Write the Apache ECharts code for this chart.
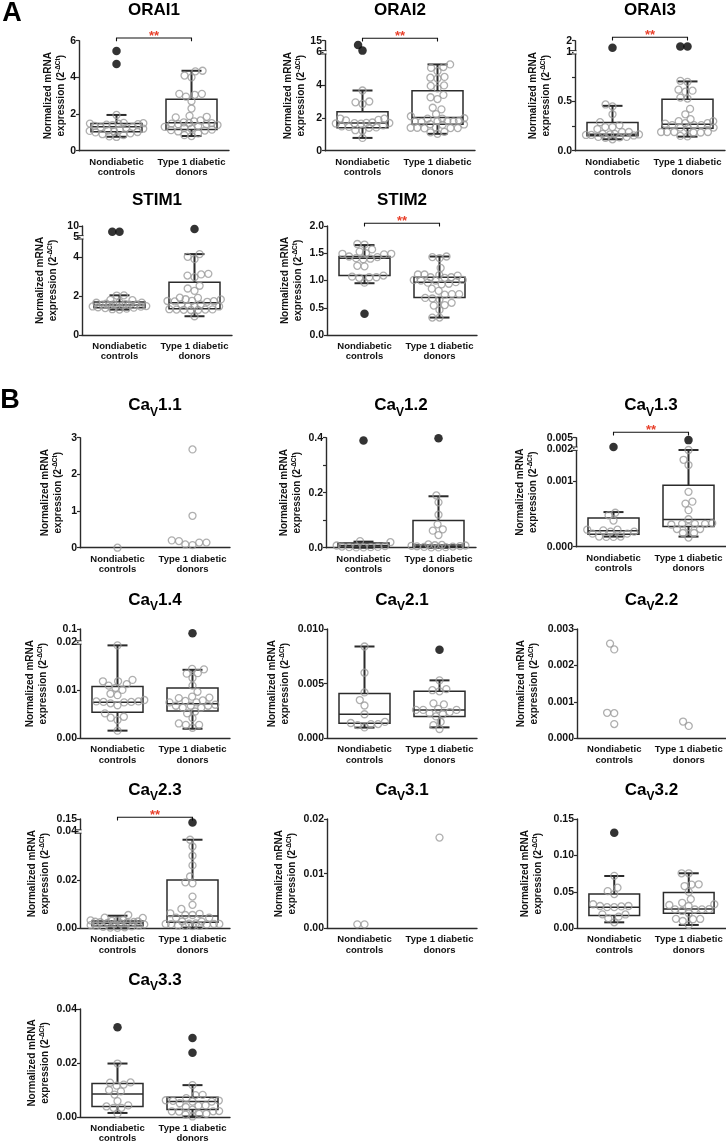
<!DOCTYPE html>
<html><head><meta charset="utf-8">
<script src="https://cdn.jsdelivr.net/npm/echarts@6/dist/echarts.min.js"></script>
<style>html,body{margin:0;padding:0;background:#fff}#c{width:726px;height:1144px}</style>
</head><body><div id="c"></div>
<script>
// ---------------- DATA ----------------
const categories = ['Nondiabetic\ncontrols', 'Type 1 diabetic\ndonors'];
const titles = [['ORAI1'], ['ORAI2'], ['ORAI3'], ['STIM1'], ['STIM2'],
  ['Ca','V','1.1'], ['Ca','V','1.2'], ['Ca','V','1.3'], ['Ca','V','1.4'], ['Ca','V','2.1'],
  ['Ca','V','2.2'], ['Ca','V','2.3'], ['Ca','V','3.1'], ['Ca','V','3.2'], ['Ca','V','3.3']];

// ORAI1
const orai1Ctrl = [1.95, 1.52, 1.50, 1.48, 1.47, 1.45, 1.42, 1.40, 1.35, 1.30, 1.28, 1.25, 1.20, 1.15, 1.10, 1.08, 1.05, 1.02, 1.00, 0.95, 0.90, 0.85, 0.78, 0.75];
const orai1CtrlOut = [5.44, 4.73];
const orai1CtrlBox = [0.76, 1.04, 1.31, 1.49, 1.95];
const orai1Diab = [4.36, 4.33, 4.1, 4.0, 3.1, 3.1, 3.05, 2.95, 2.7, 2.3, 1.9, 1.85, 1.82, 1.65, 1.6, 1.55, 1.5, 1.5, 1.48, 1.45, 1.45, 1.4, 1.35, 1.3, 1.25, 1.2, 1.15, 1.12, 1.1, 1.05, 0.95, 0.85, 0.8];
const orai1DiabOut = [];
const orai1DiabBox = [0.8, 1.16, 1.53, 2.8, 4.36];
const orai1Ticks = [0, 2, 4, 6];
const orai1Labels = ['0', '2', '4', '6'];

// ORAI2
const orai2Ctrl = [3.67, 3.0, 2.95, 2.85, 1.96, 1.95, 1.88, 1.85, 1.72, 1.70, 1.69, 1.68, 1.66, 1.65, 1.55, 1.48, 1.45, 1.42, 1.40, 1.25, 1.22, 0.78];
const orai2CtrlOut = [7.3, 11.7];
const orai2CtrlBox = [0.78, 1.40, 1.69, 2.37, 3.67];
const orai2Diab = [5.26, 5.1, 5.05, 4.85, 4.5, 4.45, 4.4, 3.98, 3.95, 3.8, 3.4, 3.26, 3.15, 2.62, 2.52, 2.23, 2.1, 1.98, 1.96, 1.95, 1.82, 1.8, 1.8, 1.78, 1.78, 1.76, 1.62, 1.6, 1.58, 1.42, 1.4, 1.4, 1.38, 1.38, 1.36, 1.15, 1.12, 1.03];
const orai2DiabOut = [];
const orai2DiabBox = [1.03, 1.61, 2.02, 3.65, 5.26];
const orai2Ticks = [0, 2, 4, 6, 15];
const orai2Labels = ['0', '2', '4', '6', '15'];
const orai2Break = [6, 15];

// ORAI3
const orai3Ctrl = [0.47, 0.45, 0.37, 0.29, 0.26, 0.24, 0.24, 0.22, 0.19, 0.19, 0.17, 0.17, 0.165, 0.165, 0.16, 0.16, 0.155, 0.14, 0.14, 0.135, 0.13, 0.116];
const orai3CtrlOut = [1.4];
const orai3CtrlBox = [0.116, 0.153, 0.167, 0.286, 0.456];
const orai3Diab = [0.71, 0.70, 0.62, 0.61, 0.60, 0.54, 0.53, 0.425, 0.37, 0.32, 0.30, 0.30, 0.28, 0.28, 0.275, 0.26, 0.26, 0.26, 0.235, 0.235, 0.23, 0.19, 0.19, 0.19, 0.19, 0.185, 0.185, 0.15, 0.145];
const orai3DiabOut = [1.49, 1.49];
const orai3DiabBox = [0.143, 0.228, 0.269, 0.524, 0.704];
const orai3Ticks = [0, 0.25, 0.5, 0.75, 1, 2];
const orai3Labels = ['0.0', '', '0.5', '', '1', '2'];
const orai3Break = [1, 2];

// STIM1
const stim1Ctrl = [2.03, 2.02, 1.8, 1.78, 1.68, 1.66, 1.65, 1.6, 1.58, 1.57, 1.56, 1.55, 1.55, 1.52, 1.5, 1.5, 1.48, 1.46, 1.45, 1.42, 1.4, 1.38, 1.35, 1.32, 1.3];
const stim1CtrlOut = [7.5, 7.5];
const stim1CtrlBox = [1.30, 1.39, 1.53, 1.69, 2.03];
const stim1Diab = [4.14, 4.0, 3.88, 3.13, 3.1, 3.04, 2.96, 2.52, 2.38, 2.26, 1.91, 1.9, 1.83, 1.82, 1.75, 1.74, 1.73, 1.72, 1.7, 1.57, 1.56, 1.48, 1.47, 1.46, 1.32, 1.31, 1.30, 1.30, 1.29, 1.28, 1.28, 0.96];
const stim1DiabOut = [8.7];
const stim1DiabBox = [0.96, 1.34, 1.65, 2.70, 4.14];
const stim1Ticks = [0, 2, 4, 5, 10];
const stim1Labels = ['0', '2', '4', '5', '10'];
const stim1Break = [5, 10];

// STIM2
const stim2Ctrl = [1.67, 1.66, 1.57, 1.53, 1.5, 1.49, 1.49, 1.48, 1.44, 1.43, 1.41, 1.40, 1.39, 1.27, 1.26, 1.09, 1.07, 1.06, 1.06, 1.05, 0.96];
const stim2CtrlOut = [0.39];
const stim2CtrlBox = [0.95, 1.09, 1.41, 1.44, 1.65];
const stim2Diab = [1.44, 1.43, 1.41, 1.23, 1.11, 1.11, 1.10, 1.09, 1.06, 1.06, 1.05, 1.01, 1.01, 1.0, 1.0, 0.97, 0.96, 0.94, 0.93, 0.85, 0.81, 0.75, 0.75, 0.74, 0.68, 0.67, 0.65, 0.59, 0.55, 0.54, 0.46, 0.32, 0.32];
const stim2DiabOut = [];
const stim2DiabBox = [0.32, 0.69, 0.97, 1.06, 1.44];
const stim2Ticks = [0, 0.5, 1, 1.5, 2];
const stim2Labels = ['0.0', '0.5', '1.0', '1.5', '2.0'];

// CaV1.1
const cav11Ctrl = [0.0];
const cav11Diab = [2.68, 0.87, 0.18, 0.14, 0.07, 0.09, 0.14, 0.2];
const cav11Ticks = [0, 1, 2, 3];
const cav11Labels = ['0', '1', '2', '3'];

// CaV1.2
const cav12Ctrl = [0.024, 0.02, 0.008, 0.006, 0.004, 0.003, 0.002, 0.002, 0.001, 0.001];
const cav12CtrlOut = [0.39];
const cav12CtrlBox = [0.0, 0.003, 0.008, 0.017, 0.022];
const cav12Diab = [0.19, 0.165, 0.12, 0.085, 0.067, 0.062, 0.046, 0.012, 0.01, 0.009, 0.008, 0.007, 0.006, 0.005, 0.004, 0.003, 0.002, 0.001, 0.001];
const cav12DiabOut = [0.398];
const cav12DiabBox = [0.0, 0.004, 0.01, 0.099, 0.187];
const cav12Ticks = [0, 0.1, 0.2, 0.3, 0.4];
const cav12Labels = ['0.0', '', '0.2', '', '0.4'];

// CaV1.3
const cav13Ctrl = [0.00052, 0.00048, 0.0004, 0.00026, 0.00026, 0.00025, 0.00023, 0.00023, 0.0002, 0.0002, 0.000155, 0.00015, 0.00015, 0.000155];
const cav13CtrlOut = [0.00205];
const cav13CtrlBox = [0.000155, 0.00019, 0.000244, 0.00044, 0.00053];
const cav13Diab = [0.00148, 0.00133, 0.00125, 0.00084, 0.00069, 0.00066, 0.00056, 0.00042, 0.00036, 0.00035, 0.00035, 0.00034, 0.00035, 0.0003, 0.00027, 0.00027, 0.00021, 0.00021, 0.00014];
const cav13DiabOut = [0.00423];
const cav13DiabBox = [0.000155, 0.00031, 0.000415, 0.00094, 0.00148];
const cav13Ticks = [0, 0.001, 0.0015, 0.005];
const cav13Labels = ['0.000', '0.001', '0.002', '0.005'];
const cav13Break = [0.0015, 0.005];

// CaV1.4
const cav14Ctrl = [0.0194, 0.0122, 0.0119, 0.0119, 0.0113, 0.011, 0.0105, 0.0101, 0.0093, 0.009, 0.008, 0.0077, 0.0077, 0.0076, 0.0076, 0.0075, 0.0073, 0.0069, 0.0052, 0.0045, 0.0043, 0.0038, 0.0016];
const cav14CtrlOut = [];
const cav14CtrlBox = [0.0016, 0.00545, 0.00755, 0.0108, 0.0194];
const cav14Diab = [0.0145, 0.0144, 0.0136, 0.0135, 0.0126, 0.011, 0.0097, 0.0087, 0.0085, 0.0084, 0.0079, 0.0078, 0.0075, 0.0075, 0.007, 0.0068, 0.0068, 0.0068, 0.0064, 0.0064, 0.0056, 0.0052, 0.0042, 0.0031, 0.0028, 0.0028, 0.0022];
const cav14DiabOut = [0.075];
const cav14DiabBox = [0.002, 0.0057, 0.0072, 0.0105, 0.0143];
const cav14Ticks = [0, 0.01, 0.02, 0.1];
const cav14Labels = ['0.00', '0.01', '0.02', '0.1'];
const cav14Break = [0.02, 0.1];

// CaV2.1
const cav21Ctrl = [0.0084, 0.006, 0.0042, 0.0035, 0.003, 0.0022, 0.0015, 0.0014, 0.0013, 0.0013, 0.0012, 0.001];
const cav21CtrlOut = [];
const cav21CtrlBox = [0.00098, 0.00137, 0.0022, 0.0041, 0.0084];
const cav21Diab = [0.0053, 0.0044, 0.0043, 0.0045, 0.0032, 0.0031, 0.0027, 0.0026, 0.0026, 0.0026, 0.0024, 0.0023, 0.0022, 0.002, 0.0015, 0.0012, 0.00085];
const cav21DiabOut = [0.0081];
const cav21DiabBox = [0.001, 0.002, 0.0026, 0.0043, 0.0053];
const cav21Ticks = [0, 0.005, 0.01];
const cav21Labels = ['0.000', '0.005', '0.010'];

// CaV2.2
const cav22Ctrl = [0.0026, 0.00244, 0.0007, 0.00069, 0.00039];
const cav22Diab = [0.00046, 0.00034];
const cav22Ticks = [0, 0.001, 0.002, 0.003];
const cav22Labels = ['0.000', '0.001', '0.002', '0.003'];

// CaV2.3
const cav23Ctrl = [0.0055, 0.0044, 0.0043, 0.0034, 0.0033, 0.0032, 0.0031, 0.0028, 0.0027, 0.0026, 0.0025, 0.0024, 0.0022, 0.002, 0.0018, 0.0016, 0.0013, 0.0011, 0.001, 0.0008, 0.0006, 0.0004, 0.0003, 0.0002];
const cav23CtrlOut = [];
const cav23CtrlBox = [0.0, 0.0011, 0.0021, 0.003, 0.0052];
const cav23Diab = [0.0366, 0.0338, 0.03, 0.026, 0.0214, 0.019, 0.0186, 0.0131, 0.0097, 0.008, 0.0062, 0.006, 0.0055, 0.0055, 0.0044, 0.0044, 0.0028, 0.0028, 0.002, 0.0018, 0.0018, 0.0017, 0.0016, 0.0018, 0.0019, 0.001, 0.001, 0.0009, 0.0011];
const cav23DiabOut = [0.119];
const cav23DiabBox = [0.0003, 0.0025, 0.0051, 0.02, 0.0366];
const cav23Ticks = [0, 0.02, 0.04, 0.15];
const cav23Labels = ['0.00', '0.02', '0.04', '0.15'];
const cav23Break = [0.04, 0.15];

// CaV3.1
const cav31Ctrl = [0.00073, 0.00073];
const cav31Diab = [0.0166];
const cav31Ticks = [0, 0.01, 0.02];
const cav31Labels = ['0.00', '0.01', '0.02'];

// CaV3.2
const cav32Ctrl = [0.072, 0.0558, 0.051, 0.047, 0.033, 0.0306, 0.0306, 0.03, 0.029, 0.029, 0.0192, 0.019, 0.016, 0.0137, 0.0082];
const cav32CtrlOut = [0.131];
const cav32CtrlBox = [0.0082, 0.0174, 0.0288, 0.047, 0.0718];
const cav32Diab = [0.0755, 0.0755, 0.0604, 0.06, 0.058, 0.05, 0.04, 0.035, 0.033, 0.032, 0.0306, 0.026, 0.026, 0.0262, 0.0258, 0.0238, 0.0206, 0.0128, 0.013, 0.0125, 0.01, 0.0046];
const cav32DiabOut = [];
const cav32DiabBox = [0.0046, 0.0206, 0.0265, 0.049, 0.0755];
const cav32Ticks = [0, 0.05, 0.1, 0.15];
const cav32Labels = ['0.00', '0.05', '0.10', '0.15'];

// CaV3.3
const cav33Ctrl = [0.0198, 0.0128, 0.0127, 0.012, 0.0116, 0.01, 0.0095, 0.0083, 0.0059, 0.0043, 0.0039, 0.0034, 0.0034, 0.0012];
const cav33CtrlOut = [0.0332];
const cav33CtrlBox = [0.0015, 0.0039, 0.0085, 0.0124, 0.0198];
const cav33Diab = [0.0118, 0.0082, 0.0081, 0.007, 0.0061, 0.006, 0.0062, 0.0057, 0.0057, 0.0051, 0.0043, 0.0042, 0.0037, 0.0027, 0.0021, 0.0021, 0.0022, 0.002, 0.0012, 0.0012, 0.0009, 0.0002];
const cav33DiabOut = [0.0293, 0.0238];
const cav33DiabBox = [0.0002, 0.0028, 0.0057, 0.0073, 0.0118];
const cav33Ticks = [0, 0.02, 0.04];
const cav33Labels = ['0.00', '0.02', '0.04'];

// ---------------- LAYOUT ----------------
const panels = [
  {left:79,  top:40.7,  h:110,   gap:6,  tY:10,    ctrl:orai1Ctrl, ctrlOut:orai1CtrlOut, ctrlBox:orai1CtrlBox, diab:orai1Diab, diabOut:orai1DiabOut, diabBox:orai1DiabBox, ticks:orai1Ticks, labels:orai1Labels, sig:2.7},
  {left:325, top:40.7,  h:110,   gap:16, tY:10,    ctrl:orai2Ctrl, ctrlOut:orai2CtrlOut, ctrlBox:orai2CtrlBox, diab:orai2Diab, diabOut:orai2DiabOut, diabBox:orai2DiabBox, ticks:orai2Ticks, labels:orai2Labels, brk:orai2Break, brkPx:11.6, sig:2.4},
  {left:575, top:40.7,  h:110,   gap:22, tY:10,    ctrl:orai3Ctrl, ctrlOut:orai3CtrlOut, ctrlBox:orai3CtrlBox, diab:orai3Diab, diabOut:orai3DiabOut, diabBox:orai3DiabBox, ticks:orai3Ticks, labels:orai3Labels, brk:orai3Break, brkPx:11.6, sig:3.4},
  {left:82,  top:226,   h:109,   gap:22, tY:200,   ctrl:stim1Ctrl, ctrlOut:stim1CtrlOut, ctrlBox:stim1CtrlBox, diab:stim1Diab, diabOut:stim1DiabOut, diabBox:stim1DiabBox, ticks:stim1Ticks, labels:stim1Labels, brk:stim1Break, brkPx:11.3},
  {left:327, top:226,   h:109,   gap:22, tY:200,   ctrl:stim2Ctrl, ctrlOut:stim2CtrlOut, ctrlBox:stim2CtrlBox, diab:stim2Diab, diabOut:stim2DiabOut, diabBox:stim2DiabBox, ticks:stim2Ticks, labels:stim2Labels, sig:2.7},
  {left:80,  top:437.7, h:110,   gap:15, tY:405.7, ctrl:cav11Ctrl, ctrlOut:[], diab:cav11Diab, diabOut:[], ticks:cav11Ticks, labels:cav11Labels},
  {left:326, top:437.7, h:110,   gap:22, tY:405.7, ctrl:cav12Ctrl, ctrlOut:cav12CtrlOut, ctrlBox:cav12CtrlBox, diab:cav12Diab, diabOut:cav12DiabOut, diabBox:cav12DiabBox, ticks:cav12Ticks, labels:cav12Labels},
  {left:576, top:437.7, h:109,   gap:36, tY:405.7, ctrl:cav13Ctrl, ctrlOut:cav13CtrlOut, ctrlBox:cav13CtrlBox, diab:cav13Diab, diabOut:cav13DiabOut, diabBox:cav13DiabBox, ticks:cav13Ticks, labels:cav13Labels, brk:cav13Break, brkPx:11, sig:5.4},
  {left:80,  top:629,   h:109.3, gap:30, tY:600,   ctrl:cav14Ctrl, ctrlOut:cav14CtrlOut, ctrlBox:cav14CtrlBox, diab:cav14Diab, diabOut:cav14DiabOut, diabBox:cav14DiabBox, ticks:cav14Ticks, labels:cav14Labels, brk:cav14Break, brkPx:13.5},
  {left:327, top:629,   h:109.3, gap:35, tY:600,   ctrl:cav21Ctrl, ctrlOut:cav21CtrlOut, ctrlBox:cav21CtrlBox, diab:cav21Diab, diabOut:cav21DiabOut, diabBox:cav21DiabBox, ticks:cav21Ticks, labels:cav21Labels},
  {left:577, top:629,   h:109.3, gap:36, tY:600,   ctrl:cav22Ctrl, ctrlOut:[], diab:cav22Diab, diabOut:[], ticks:cav22Ticks, labels:cav22Labels},
  {left:80,  top:819,   h:109.3, gap:28, tY:790,   ctrl:cav23Ctrl, ctrlOut:cav23CtrlOut, ctrlBox:cav23CtrlBox, diab:cav23Diab, diabOut:cav23DiabOut, diabBox:cav23DiabBox, ticks:cav23Ticks, labels:cav23Labels, brk:cav23Break, brkPx:12.5, sig:1.7},
  {left:327, top:819,   h:109.3, gap:28, tY:790,   ctrl:cav31Ctrl, ctrlOut:[], diab:cav31Diab, diabOut:[], ticks:cav31Ticks, labels:cav31Labels},
  {left:577, top:819,   h:109.3, gap:32, tY:790,   ctrl:cav32Ctrl, ctrlOut:cav32CtrlOut, ctrlBox:cav32CtrlBox, diab:cav32Diab, diabOut:cav32DiabOut, diabBox:cav32DiabBox, ticks:cav32Ticks, labels:cav32Labels},
  {left:80,  top:1009,  h:109.3, gap:28, tY:980,   ctrl:cav33Ctrl, ctrlOut:cav33CtrlOut, ctrlBox:cav33CtrlBox, diab:cav33Diab, diabOut:cav33DiabOut, diabBox:cav33DiabBox, ticks:cav33Ticks, labels:cav33Labels}
];

const FONT = '"Liberation Sans", Arial, Helvetica, sans-serif';
const AX = '#2b2b2b';
const TXT = '#111';
const W = 150;
const PT = 7.2;       // preferred spacing between point centres (px)
const MAXOFF = 27;    // widest horizontal spread from group centre (px)

// deterministic beeswarm: place each point as close to the centre as possible
function swarm(ty, pxY, pxX) {
  const idx = ty.map((v, i) => i).sort((a, b) => ty[a] - ty[b]);
  const placed = [];
  const out = new Array(ty.length);
  idx.forEach(i => {
    const y = ty[i] * pxY;
    let best = null;
    for (let d = PT; d >= 2.5 && best === null; d -= 0.6) {
      const cands = [0];
      placed.forEach(q => {
        const dy = Math.abs(q.y - y);
        if (dy < d) { const dx = Math.sqrt(d * d - dy * dy); cands.push(q.x + dx, q.x - dx); }
      });
      cands.sort((a, b) => (Math.abs(a) - Math.abs(b)) || (a - b));
      for (const c of cands) {
        if (Math.abs(c) > MAXOFF) break;
        if (placed.every(q => (q.x - c) ** 2 + (q.y - y) ** 2 >= d * d - 1e-6)) { best = c; break; }
      }
    }
    if (best === null) best = 0;
    placed.push({x: best, y: y});
    out[i] = best / pxX;
  });
  return out;
}

function renderBox(params, api) {
  const x = api.value(0);
  const unit = api.size([1, 0])[0];
  const hw = unit * 0.34, cw = 10;
  const p = [1, 2, 3, 4, 5].map(k => api.coord([x, api.value(k)]));
  const cx = p[0][0];
  const ln = (x1, y1, x2, y2, w) => ({type: 'line', shape: {x1, y1, x2, y2}, style: {stroke: AX, lineWidth: w}});
  return {type: 'group', children: [
    ln(cx, p[0][1], cx, p[1][1], 2),
    ln(cx, p[3][1], cx, p[4][1], 2),
    ln(cx - cw, p[0][1], cx + cw, p[0][1], 2),
    ln(cx - cw, p[4][1], cx + cw, p[4][1], 2),
    {type: 'rect', shape: {x: cx - hw, y: p[3][1], width: 2 * hw, height: p[1][1] - p[3][1]}, style: {fill: 'none', stroke: AX, lineWidth: 1.5}},
    ln(cx - hw, p[2][1], cx + hw, p[2][1], 1.5)
  ]};
}

const option = {animation: false, grid: [], xAxis: [], yAxis: [], series: []};
const meta = [];

panels.forEach((p, i) => {
  let T = v => v, ymax;
  if (p.brk) {
    const at = p.brk[0], top = p.brk[1];
    const pxPerUnit = (p.h - p.brkPx) / at;
    const hU = p.brkPx / pxPerUnit;
    T = v => v <= at ? v : at + (v - at) / (top - at) * hU;
    ymax = at + hU;
  } else {
    ymax = p.ticks[p.ticks.length - 1];
  }
  const tickT = p.ticks.map(T);
  const labT = tickT.filter((v, k) => p.labels[k] !== '');
  meta.push({T, ymax});

  option.grid.push({left: p.left, top: p.top, width: W, height: p.h});
  option.xAxis.push({type: 'category', gridIndex: i, data: categories, boundaryGap: true,
    axisLine: {onZero: false, lineStyle: {color: AX, width: 1.4}}, axisTick: {show: false},
    axisLabel: {interval: 0, fontSize: 9.5, fontWeight: 'bold', color: TXT, fontFamily: FONT, lineHeight: 10.5, margin: 6}});
  option.xAxis.push({type: 'value', gridIndex: i, min: -0.5, max: 1.5, show: false, axisLine: {onZero: false}});
  option.yAxis.push({type: 'value', gridIndex: i, min: 0, max: ymax, position: 'left',
    axisLine: {show: true, onZero: false, lineStyle: {color: AX, width: 1.4}},
    axisTick: {show: true, length: 3, customValues: tickT, lineStyle: {color: AX, width: 1.2}},
    axisLabel: {customValues: labT, fontSize: 10.5, fontWeight: 'bold', color: TXT, fontFamily: FONT, margin: 3,
      formatter: v => { for (let k = 0; k < tickT.length; k++) { if (Math.abs(tickT[k] - v) <= 1e-9 * ymax) return p.labels[k]; } return ''; }},
    splitLine: {show: false},
    name: '{a|Normalized mRNA}\n{a|expression (2}{s|-ΔCt}{a|)}',
    nameLocation: 'middle', nameGap: p.gap,
    nameTextStyle: {rich: {
      a: {fontSize: 10, fontWeight: 'bold', fontFamily: FONT, color: TXT, lineHeight: 13.3},
      s: {fontSize: 6.5, fontWeight: 'bold', fontFamily: FONT, color: TXT, lineHeight: 7, verticalAlign: 'top'}
    }}
  });

  const pxY = p.h / ymax, pxX = W / 2;
  const groups = [[p.ctrl, p.ctrlOut, p.ctrlBox], [p.diab, p.diabOut, p.diabBox]];
  const boxData = [];
  const hollow = [], filled = [];
  groups.forEach(([pts, outs, box], gi) => {
    const all = pts.concat(outs || []);
    const offs = swarm(all.map(T), pxY, pxX);
    pts.forEach((v, k) => hollow.push([gi + offs[k], T(v)]));
    (outs || []).forEach((v, k) => filled.push([gi + offs[pts.length + k], T(v)]));
    if (box) boxData.push([gi].concat(box.map(T)));
  });
  if (boxData.length) {
    option.series.push({type: 'custom', xAxisIndex: 2 * i + 1, yAxisIndex: i, clip: false, silent: true, z: 2,
      dimensions: ['x', 'lo', 'q1', 'med', 'q3', 'hi'], encode: {x: 0, y: [1, 2, 3, 4, 5]},
      data: boxData, renderItem: renderBox});
  }
  option.series.push({type: 'scatter', xAxisIndex: 2 * i + 1, yAxisIndex: i, clip: false, silent: true, z: 3,
    symbol: 'circle', symbolSize: 7, data: hollow, emphasis: {disabled: true},
    itemStyle: {color: 'rgba(255,255,255,0)', borderColor: '#9b9b9b', borderWidth: 1.3}});
  if (filled.length) {
    option.series.push({type: 'scatter', xAxisIndex: 2 * i + 1, yAxisIndex: i, clip: false, silent: true, z: 4,
      symbol: 'circle', symbolSize: 8.5, data: filled, emphasis: {disabled: true},
      itemStyle: {color: '#000'}});
  }
});

const chart = echarts.init(document.getElementById('c'), null, {renderer: 'canvas'});
chart.setOption(option);

// ---------- annotations (positions from the library's scales) ----------
const els = [];
const txt = (x, y, text, extra) => Object.assign({type: 'text', x, y, silent: true,
  style: Object.assign({text, fontFamily: FONT, fill: TXT, align: 'center', verticalAlign: 'middle',
    textAlign: 'center', textVerticalAlign: 'middle'}, extra)});

els.push(txt(12, 14, 'A', {fontSize: 27, fontWeight: 'bold', fill: '#000'}));
els.push(txt(10, 401, 'B', {fontSize: 27, fontWeight: 'bold', fill: '#000'}));

panels.forEach((p, i) => {
  const m = meta[i];
  const xL = chart.convertToPixel({xAxisIndex: 2 * i + 1}, -0.5);
  const xR = chart.convertToPixel({xAxisIndex: 2 * i + 1}, 1.5);
  const t = titles[i];
  const rich = {
    b: {fontSize: 17, fontWeight: 'bold', fontFamily: FONT, fill: '#000', lineHeight: 26, verticalAlign: 'middle'},
    s: {fontSize: 12, fontWeight: 'bold', fontFamily: FONT, fill: '#000', lineHeight: 12, verticalAlign: 'bottom'}
  };
  const ttext = t.length === 1 ? '{b|' + t[0] + '}' : '{b|' + t[0] + '}{s|' + t[1] + '}{b|' + t[2] + '}';
  els.push(txt((xL + xR) / 2, p.tY, ttext, {rich}));

  if (p.sig) {
    const x0 = chart.convertToPixel({xAxisIndex: 2 * i + 1}, 0);
    const x1 = chart.convertToPixel({xAxisIndex: 2 * i + 1}, 1);
    const yb = chart.convertToPixel({yAxisIndex: i}, m.ymax) - p.sig;
    els.push({type: 'polyline', silent: true, shape: {points: [[x0, yb + 3.3], [x0, yb], [x1, yb], [x1, yb + 3.3]]},
      style: {stroke: '#111', lineWidth: 1.1, fill: null}});
    els.push(txt((x0 + x1) / 2, yb - 2, '**', {fontSize: 13, fontWeight: 'bold', fill: '#e8402b'}));
  }
  if (p.brk) {
    const yk = chart.convertToPixel({yAxisIndex: i}, m.T(p.brk[0]));
    els.push({type: 'rect', silent: true, shape: {x: xL - 1.5, y: yk - 1.6, width: 3, height: 3.2}, style: {fill: '#fff'}, z: 100});
    els.push({type: 'line', silent: true, shape: {x1: xL - 5, y1: yk - 1.7, x2: xL + 1.5, y2: yk - 1.7}, style: {stroke: AX, lineWidth: 1}, z: 101});
    els.push({type: 'line', silent: true, shape: {x1: xL - 5, y1: yk + 1.7, x2: xL + 1.5, y2: yk + 1.7}, style: {stroke: AX, lineWidth: 1}, z: 101});
  }
});

chart.setOption({graphic: {elements: els}});
</script>
</body></html>
